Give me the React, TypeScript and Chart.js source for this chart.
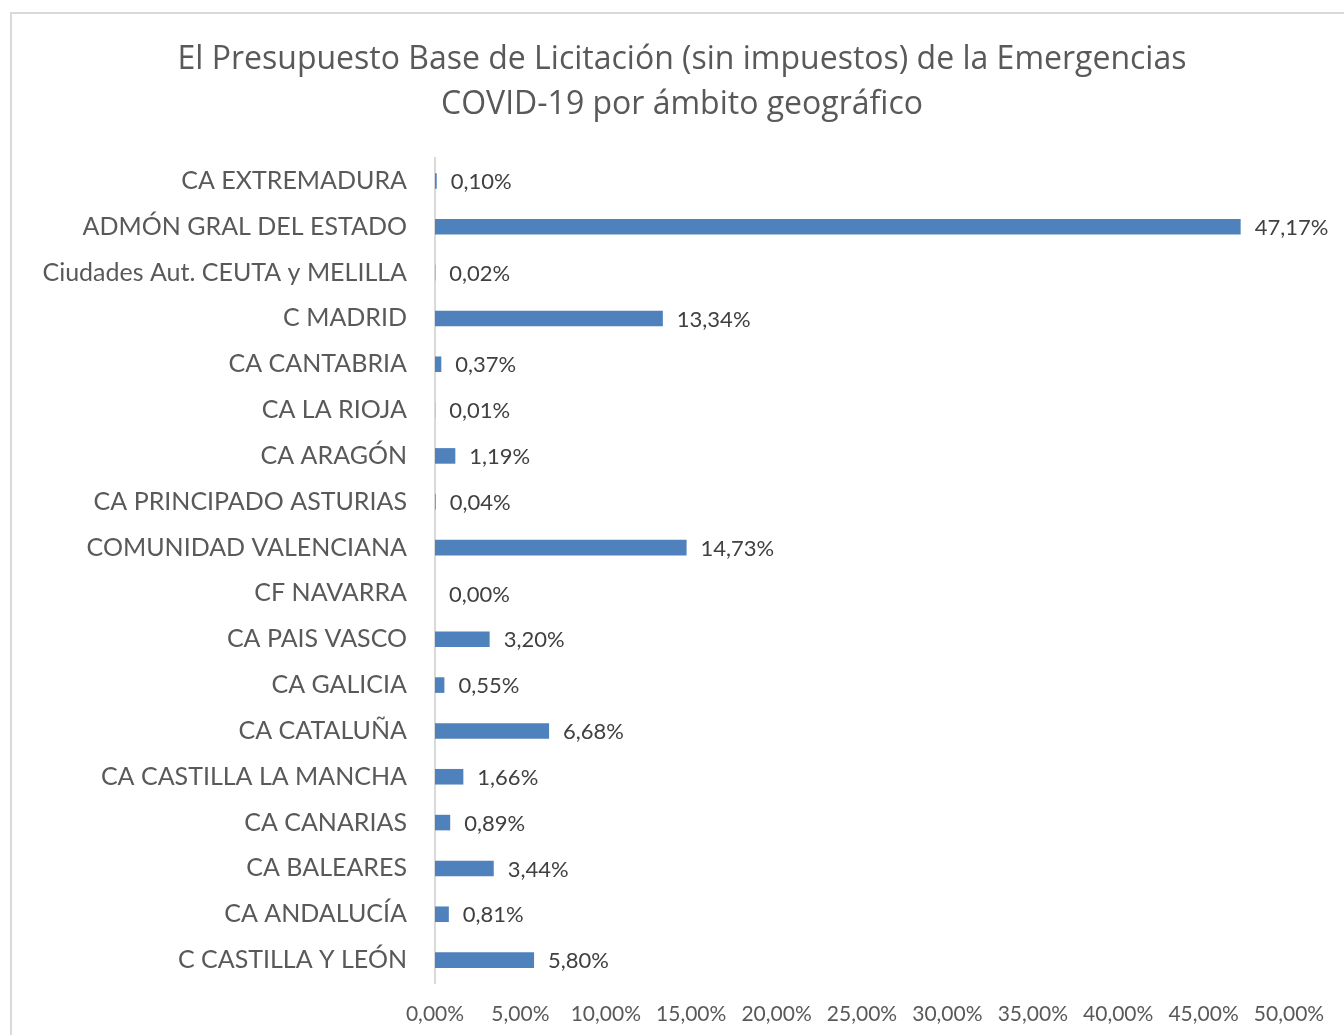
import React, { useEffect, useRef } from "react";
import { Chart, registerables } from "chart.js";

Chart.register(...registerables);

const categories = [
  "CA EXTREMADURA",
  "ADMÓN GRAL DEL ESTADO",
  "Ciudades Aut. CEUTA y MELILLA",
  "C MADRID",
  "CA CANTABRIA",
  "CA LA RIOJA",
  "CA ARAGÓN",
  "CA PRINCIPADO ASTURIAS",
  "COMUNIDAD VALENCIANA",
  "CF NAVARRA",
  "CA PAIS VASCO",
  "CA GALICIA",
  "CA CATALUÑA",
  "CA CASTILLA LA MANCHA",
  "CA CANARIAS",
  "CA BALEARES",
  "CA ANDALUCÍA",
  "C CASTILLA Y LEÓN",
];

const values = [
  0.1, 47.17, 0.02, 13.34, 0.37, 0.01, 1.19, 0.04, 14.73, 0.0, 3.2, 0.55, 6.68,
  1.66, 0.89, 3.44, 0.81, 5.8,
];

const titleLines = [
  "El Presupuesto Base de Licitación (sin impuestos) de la Emergencias",
  "COVID-19 por ámbito geográfico",
];

const xMin = 0;
const xMax = 50;
const xStep = 5;

const fmt = (v: number) => v.toFixed(2).replace(".", ",") + "%";

const FONT = "Lato, 'Noto Sans', sans-serif";
const TITLE_FONT = "'Open Sans', Lato, sans-serif";

const titlePlugin = {
  id: "customTitle",
  afterDraw(chart: any) {
    const ctx = chart.ctx;
    ctx.save();
    ctx.font = `32px ${TITLE_FONT}`;
    ctx.fillStyle = "#595959";
    ctx.textAlign = "center";
    ctx.textBaseline = "middle";
    ctx.fillText(titleLines[0], 682, 60);
    ctx.fillText(titleLines[1], 682, 105);
    ctx.restore();
  },
};

const dataLabelPlugin = {
  id: "dataLabels",
  afterDatasetsDraw(chart: any) {
    const ctx = chart.ctx;
    const meta = chart.getDatasetMeta(0);
    ctx.save();
    ctx.font = `22px ${FONT}`;
    ctx.fillStyle = "#404040";
    ctx.textAlign = "left";
    ctx.textBaseline = "middle";
    meta.data.forEach((bar: any, i: number) => {
      ctx.fillText(fmt(values[i]), bar.x + 14, bar.y + 1);
    });
    ctx.restore();
  },
};

export default function App() {
  const ref = useRef<HTMLCanvasElement>(null);
  useEffect(() => {
    if (!ref.current) return;
    const chart = new Chart(ref.current, {
      type: "bar",
      data: {
        labels: categories,
        datasets: [
          {
            data: values,
            backgroundColor: "#4F81BD",
            borderWidth: 0,
            barPercentage: 0.68,
            categoryPercentage: 0.5,
          },
        ],
      },
      options: {
        indexAxis: "y",
        animation: false,
        responsive: false,
        maintainAspectRatio: false,
        layout: { padding: { left: 0, right: 55, top: 158, bottom: 0 } },
        plugins: {
          legend: { display: false },
          tooltip: { enabled: false },
          title: { display: false },
        },
        scales: {
          x: {
            min: xMin,
            max: xMax,
            ticks: {
              stepSize: xStep,
              color: "#595959",
              font: { family: FONT, size: 21 },
              padding: 19,
              maxRotation: 0,
              callback: (v: any) => fmt(Number(v)),
            },
            grid: { display: false, drawTicks: false },
            border: { display: false },
            afterFit: (s: any) => {
              s.height = 52;
            },
          },
          y: {
            ticks: {
              color: "#595959",
              font: { family: FONT, size: 25 },
              padding: 28,
              autoSkip: false,
            },
            grid: { drawOnChartArea: false, drawTicks: false },
            border: { display: true, color: "#d9d9d9", width: 2 },
            afterFit: (s: any) => {
              s.width = 435;
            },
          },
        },
      },
      plugins: [dataLabelPlugin, titlePlugin],
    });
    return () => chart.destroy();
  }, []);

  return (
    <div>
      <div
        style={{
          position: "fixed",
          left: 10,
          top: 12,
          width: 1500,
          height: 1200,
          border: "2px solid #d9d9d9",
          background: "#fff",
          boxSizing: "border-box",
        }}
      />
      <canvas
        ref={ref}
        width={1344}
        height={1035}
        style={{ position: "fixed", left: 0, top: 0, width: 1344, height: 1035 }}
      />
    </div>
  );
}
